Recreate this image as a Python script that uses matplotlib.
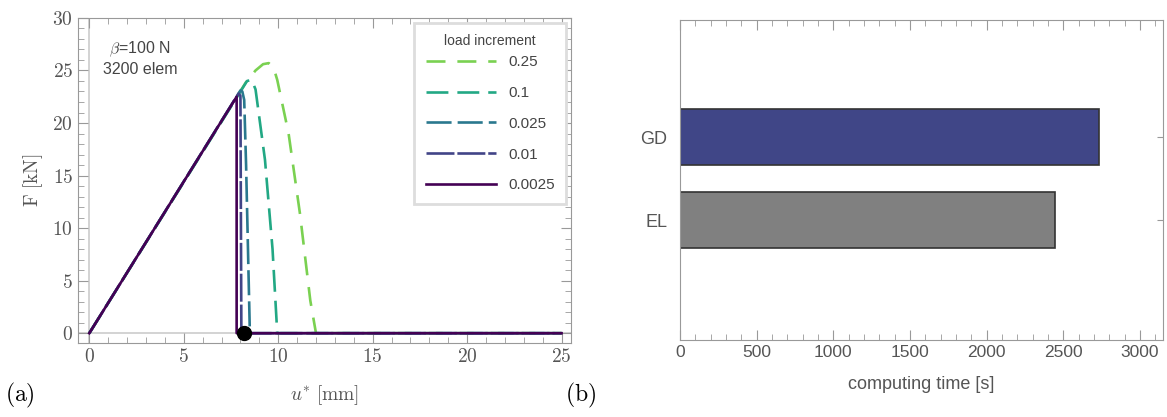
import matplotlib
matplotlib.use("Agg")
import matplotlib.pyplot as plt
from matplotlib.ticker import MultipleLocator, FuncFormatter

plt.rcParams["font.family"] = ["Liberation Sans", "DejaVu Sans"]
plt.rcParams["mathtext.fontset"] = "cm"

# (a) force-displacement curves per load increment
increments = ["0.25", "0.1", "0.025", "0.01", "0.0025"]
u_025 = [0, 8.3, 8.8, 9.2, 9.5, 9.75, 9.95, 10.55, 11.15, 11.7, 12.0, 25]
f_025 = [0, 23.9, 25.0, 25.6, 25.7, 25.3, 24.1, 19.0, 11.4, 3.1, 0, 0]
u_01 = [0, 8.35, 8.6, 8.8, 9.3, 9.7, 9.95, 25]
f_01 = [0, 24.0, 24.1, 23.2, 16.5, 8.0, 0, 0]
u_0025 = [0, 8.0, 8.1, 8.2, 8.3, 8.4, 8.5, 25]
f_0025 = [0, 23.1, 23.0, 22.2, 16.0, 8.0, 0, 0]
u_001 = [0, 7.9, 8.0, 8.05, 25]
f_001 = [0, 22.8, 22.6, 0, 0]
u_00025 = [0, 7.8, 7.8, 25]
f_00025 = [0, 22.5, 0, 0]
dot_u, dot_f = 8.18, 0

# (b) computing time
methods = ["GD", "EL"]
times = [2730, 2445]

colors = ["#7ad151", "#22a884", "#2a788e", "#414487", "#440154"]
dashes = [(7.2, 4.5), (8.3, 3.4), (9.5, 2.3), (10.6, 1.1), None]
curves = [(u_025, f_025), (u_01, f_01), (u_0025, f_0025), (u_001, f_001), (u_00025, f_00025)]

fig = plt.figure(figsize=(11.67, 4.17), dpi=100)
ax = fig.add_axes([0.0668, 0.177, 0.4225, 0.780])
ax2 = fig.add_axes([0.5827, 0.185, 0.4139, 0.767])

frame_c = "#999999"
tick_c = "#555555"

# gray axis lines (Mathematica style)
ax.axhline(0, color="#cccccc", lw=1.2, zorder=0)
ax.axvline(0, color="#cccccc", lw=1.2, zorder=0)

for (u, f), lab, c, d in zip(curves, increments, colors, dashes):
    line, = ax.plot(u, f, color=c, lw=1.9, label=lab, solid_joinstyle="round")
    if d is not None:
        line.set_dashes(d)
ax.plot([dot_u], [dot_f], "o", color="black", ms=10, zorder=5, clip_on=False)

ax.set_xlim(-0.6, 25.5)
ax.set_ylim(-0.95, 30)
ax.xaxis.set_major_locator(MultipleLocator(5))
ax.xaxis.set_minor_locator(MultipleLocator(1))
ax.yaxis.set_major_locator(MultipleLocator(5))
ax.yaxis.set_minor_locator(MultipleLocator(1))
fmt = FuncFormatter(lambda v, p: f"${v:g}$")
ax.xaxis.set_major_formatter(fmt)
ax.yaxis.set_major_formatter(fmt)
ax.tick_params(which="both", direction="in", top=True, right=True, color=frame_c,
               labelcolor=tick_c, labelsize=14)
ax.tick_params(which="major", length=7)
ax.tick_params(which="minor", length=4)
for s in ax.spines.values():
    s.set_color(frame_c)
ax.set_xlabel(r"$u^{*}\ \mathrm{[mm]}$", fontsize=14, color=tick_c, labelpad=12)
ax.set_ylabel(r"$\mathrm{F\ [kN]}$", fontsize=14, color=tick_c, labelpad=5)

ax.text(0.126, 0.905, r"$\beta$=100 N", transform=ax.transAxes, ha="center", va="center",
        fontsize=11.5, color="#444444")
ax.text(0.126, 0.84, "3200 elem", transform=ax.transAxes, ha="center", va="center",
        fontsize=11.5, color="#444444")

leg = ax.legend(title="load increment", loc="upper right", bbox_to_anchor=(0.99, 0.985),
                borderaxespad=0, fontsize=11, title_fontsize=10, handlelength=4.6,
                handletextpad=0.78, labelspacing=1.1, fancybox=False, framealpha=1,
                borderpad=0.75)
leg._legend_box.sep = 5  # gap between title and entries, points
leg.get_frame().set_edgecolor("#dddddd")
leg.get_frame().set_linewidth(2)
for t in leg.get_texts():
    t.set_color("#444444")
leg.get_title().set_color("#444444")

# (b) bars
ypos = [2, 1]
bar_colors = ["#404687", "#808080"]
ax2.barh(ypos, times, height=0.67, color=bar_colors, edgecolor="#333333", linewidth=1.2)
ax2.set_xlim(0, 3150)
ax2.set_ylim(-0.44, 3.41)
ax2.set_yticks(ypos)
ax2.set_yticklabels(methods)
ax2.xaxis.set_major_locator(MultipleLocator(500))
ax2.xaxis.set_minor_locator(MultipleLocator(100))
ax2.tick_params(axis="x", which="both", direction="in", top=True, color=frame_c,
                labelcolor=tick_c, labelsize=12.5)
ax2.tick_params(axis="x", which="major", length=7)
ax2.tick_params(axis="x", which="minor", length=4)
ax2.tick_params(axis="y", direction="in", left=False, right=True, length=4, color=frame_c,
                labelcolor=tick_c, labelsize=13, pad=9)
for s in ax2.spines.values():
    s.set_color(frame_c)
ax2.set_xlabel("computing time [s]", fontsize=13, color=tick_c, labelpad=12)

fig.text(0.004, 0.052, r"$\mathrm{(a)}$", fontsize=17, va="center")
fig.text(0.484, 0.052, r"$\mathrm{(b)}$", fontsize=17, va="center")

fig.savefig("out.png", dpi=100)
